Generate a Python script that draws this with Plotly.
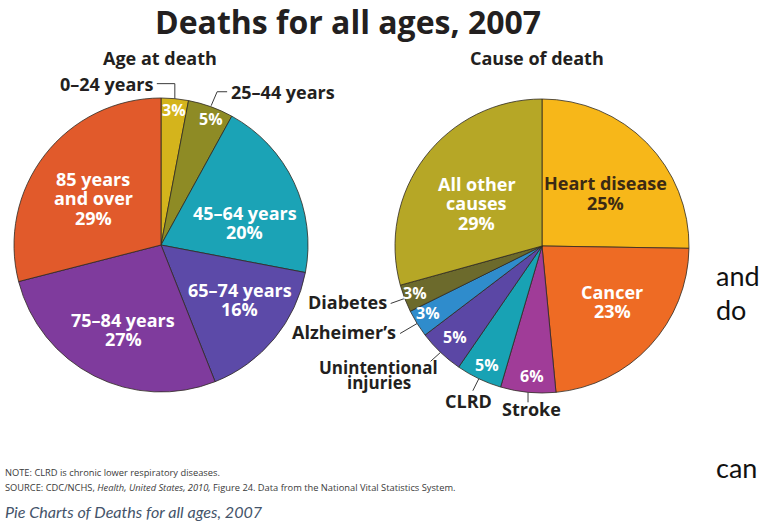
import math
import plotly.graph_objects as go

# ---- data ----
AGE_GROUPS = ["0–24 years", "25–44 years", "45–64 years", "65–74 years", "75–84 years", "85 years and over"]
AGE_SHARE = [3, 5, 20, 16, 27, 29]

CAUSES = ["Heart disease", "Cancer", "Stroke", "CLRD", "Unintentional injuries",
          "Alzheimer’s", "Diabetes", "All other causes"]
CAUSE_SHARE = [25, 23, 6, 5, 5, 3, 3, 29]

# ---- style ----
W, H = 764, 529
R = 147
LEFT_C = (161, 245)
RIGHT_C = (542, 246)
FONT = "Open Sans"
DARK = "#231f20"

AGE_COLORS = ["#d4b41c", "#8e8b25", "#1ba3b6", "#5c4aa8", "#7f3b9d", "#e15a2b"]
CAUSE_COLORS = ["#f7b719", "#ee6b24", "#a03c98", "#18a2b4", "#5b47a5", "#2f8ccc", "#6c6a2c", "#b6a726"]

# how a name is broken when written inside a slice (None -> only the percent inside)
AGE_INSIDE = [None, None, "45–64 years", "65–74 years", "75–84 years", "85 years<br>and over"]
CAUSE_INSIDE = ["Heart disease", "Cancer", None, None, None, None, None, "All other<br>causes"]
CAUSE_TEXT_COLORS = ["#3b2a14"] + ["#ffffff"] * 7

# (radius fraction, angle offset in degrees) for inside text
AGE_TEXT_POS = [(0.92, 0), (0.92, 2), (0.59, 10), (0.65, -5), (0.63, -3), (0.56, -3)]
CAUSE_TEXT_POS = [(0.56, 4.5), (0.61, -4.5), (0.89, -1), (0.89, -0.7), (0.86, 0), (0.90, 1.4), (0.92, 0.6), (0.53, -4)]


def px(x, y):
    return x / W, 1 - y / H


def domain(c):
    cx, cy = c
    x0, y1 = px(cx - R, cy - R)
    x1, y0 = px(cx + R, cy + R)
    return dict(x=[x0, x1], y=[y0, y1])


def mid_angles(values):
    total = sum(values)
    acc, out = 0, []
    for v in values:
        out.append(360 * (acc + v / 2) / total)
        acc += v
    return out


def polar(c, r, ang):
    a = math.radians(ang)
    return c[0] + r * math.sin(a), c[1] - r * math.cos(a)


fig = go.Figure()

for labels, values, colors, c in [(AGE_GROUPS, AGE_SHARE, AGE_COLORS, LEFT_C),
                                  (CAUSES, CAUSE_SHARE, CAUSE_COLORS, RIGHT_C)]:
    fig.add_trace(go.Pie(
        labels=labels, values=values, sort=False, direction="clockwise", rotation=0,
        marker=dict(colors=colors, line=dict(color="#2e2a22", width=0.8)),
        textinfo="none", hoverinfo="label+percent", showlegend=False,
        domain=domain(c),
    ))


def text(x, y, s, size=18, color=DARK, xanchor="center", bold=True, family=FONT,
         italic=False, gap=None):
    lines = s.split("<br>") if gap else [s]
    y0 = y - gap * (len(lines) - 1) / 2 if gap else y
    for k, part in enumerate(lines):
        xp, yp = px(x, y0 + (gap or 0) * k)
        fig.add_annotation(x=xp, y=yp, xref="paper", yref="paper", text=part, showarrow=False,
                           xanchor=xanchor, yanchor="middle",
                           font=dict(family=family, size=size, color=color,
                                     weight="bold" if bold else "normal",
                                     style="italic" if italic else "normal"))


def line(points):
    path = ""
    for i, (x, y) in enumerate(points):
        xp, yp = px(x, y)
        path += ("M" if i == 0 else " L") + f" {xp} {yp}"
    fig.add_shape(type="path", path=path, xref="paper", yref="paper",
                  line=dict(color="#3a3a3a", width=1))


# inside texts
for names, values, pos, c, tcolors in [
        (AGE_INSIDE, AGE_SHARE, AGE_TEXT_POS, LEFT_C, ["#ffffff"] * 6),
        (CAUSE_INSIDE, CAUSE_SHARE, CAUSE_TEXT_POS, RIGHT_C, CAUSE_TEXT_COLORS)]:
    for name, v, ang, (rf, off), tc in zip(names, values, mid_angles(values), pos, tcolors):
        x, y = polar(c, R * rf, ang + off)
        if name is None:
            text(x, y, f"{v}%", size=16, color=tc)
        else:
            text(x, y, f"{name}<br>{v}%", size=18, color=tc, gap=19.5)

# call-outs for small slices
age_mid = mid_angles(AGE_SHARE)
tx, ty = polar(LEFT_C, R, age_mid[0])
line([(tx, ty), (tx, ty - 15), (tx - 18, ty - 15)])
text(tx - 20, ty - 15, AGE_GROUPS[0], xanchor="right")
tx, ty = polar(LEFT_C, R + 1, age_mid[1])
line([(tx, ty), (tx + 6, ty - 14), (tx + 16, ty - 14)])
text(tx + 18, ty - 14, AGE_GROUPS[1], xanchor="left")

cause_mid = mid_angles(CAUSE_SHARE)
# (index, line end offset, text offset, anchor)
CALLOUTS = [(6, (-14, 5), (-16, 4), "right"),
            (5, (-17, 10), (-19, 8), "right"),
            (3, (-6, 12), (-10, 22), "center"),
            (2, (0, 10), (3, 17), "center")]
for i, (lx, ly), (ox, oy), anchor in CALLOUTS:
    tx, ty = polar(RIGHT_C, R, cause_mid[i])
    line([(tx, ty), (tx + lx, ty + ly)])
    text(tx + ox, ty + oy, CAUSES[i], xanchor=anchor)
tx, ty = polar(RIGHT_C, R, cause_mid[4])
line([(tx, ty), (tx - 10, ty + 9)])
text(tx - 62, ty + 23, CAUSES[4].replace(" ", "<br>"), size=17, gap=15)

# titles
text(348, 22, "Deaths for all ages, 2007", size=32)
text(160, 58, "Age at death")
text(537, 58, "Cause of death")

# footnotes
text(3, 472, "NOTE: CLRD is chronic lower respiratory diseases.", size=9.3, color="#3a3a3a",
     xanchor="left", bold=False)
text(3, 487, "SOURCE: CDC/NCHS, <i>Health, United States, 2010,</i> Figure 24. "
     "Data from the National Vital Statistics System.", size=9.3, color="#3a3a3a",
     xanchor="left", bold=False)
text(3, 511, "Pie Charts of Deaths for all ages, 2007", size=16.1, color="#44546a",
     xanchor="left", bold=False, family="Lato", italic=True)

# stray words of the surrounding page
text(714, 275, "and", size=27, color="#111111", xanchor="left", bold=False, family="Lato")
text(714, 309, "do", size=27, color="#111111", xanchor="left", bold=False, family="Lato")
text(714, 467, "can", size=27, color="#111111", xanchor="left", bold=False, family="Lato")

fig.update_layout(width=W, height=H, margin=dict(l=0, r=0, t=0, b=0),
                  paper_bgcolor="white", plot_bgcolor="white")

# drop the default 8px body margin so the figure fills the window exactly
fig.write_html("out.html", config={"displayModeBar": False},
               post_script="document.body.style.margin = '0';")
